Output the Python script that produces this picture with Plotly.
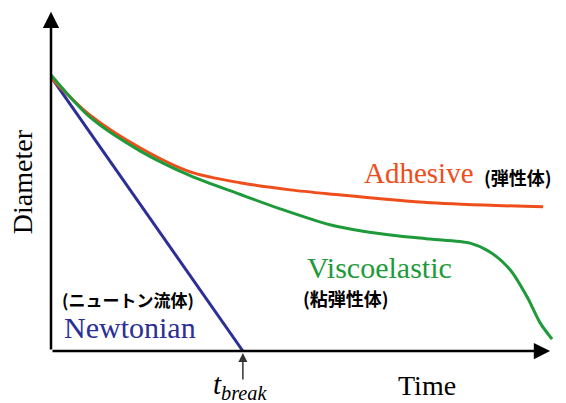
import plotly.graph_objects as go

# Data (time, diameter) in arbitrary units
newton_t = [0.0, 3.86]
newton_d = [8.08, 0.0]

adhesive_t = [0.0, 0.78, 1.79, 2.80, 3.80, 4.81, 5.61, 7.63, 9.90]
adhesive_d = [8.05, 6.96, 5.99, 5.28, 4.96, 4.75, 4.63, 4.37, 4.25]

visco_t = [0.0, 0.78, 1.79, 2.80, 3.80, 4.61, 5.61, 6.28, 6.96, 7.63, 8.43, 8.83, 9.24, 9.58, 9.84, 10.08]
visco_d = [8.14, 6.90, 5.90, 5.17, 4.62, 4.19, 3.72, 3.53, 3.40, 3.30, 3.18, 2.92, 2.39, 1.59, 0.83, 0.35]

BLUE = "#2B2F96"
RED = "#EE4E1C"
GREEN = "#1E9A3A"
SERIF = "Liberation Serif, Times New Roman, serif"
CJK = "Noto Sans CJK JP, sans-serif"

fig = go.Figure()
fig.add_trace(go.Scatter(x=newton_t, y=newton_d, mode="lines",
                         line=dict(color=BLUE, width=3), cliponaxis=False))
fig.add_trace(go.Scatter(x=adhesive_t, y=adhesive_d, mode="lines",
                         line=dict(color=RED, width=3, shape="spline", smoothing=0.8), cliponaxis=False))
fig.add_trace(go.Scatter(x=visco_t, y=visco_d, mode="lines",
                         line=dict(color=GREEN, width=3, shape="spline", smoothing=0.8), cliponaxis=False))

ann = []
# axis arrows
ann.append(dict(x=0, y=10.0, ax=0, ay=0, xref="x", yref="y", axref="x", ayref="y",
                text="", showarrow=True, arrowhead=2, arrowsize=1.3, arrowwidth=2.5, arrowcolor="black"))
ann.append(dict(x=10.04, y=0, ax=0, ay=0, xref="x", yref="y", axref="x", ayref="y",
                text="", showarrow=True, arrowhead=2, arrowsize=1.3, arrowwidth=2.5, arrowcolor="black"))
# t_break arrow
ann.append(dict(x=3.86, y=0, ax=0, ay=30, xref="x", yref="y",
                text="", showarrow=True, arrowhead=2, arrowsize=1.2, arrowwidth=1.5, arrowcolor="#333333", standoff=2))

def label(x, y, text, color, font, size, angle=0, ref="x"):
    xr, yr = ("x", "y") if ref == "x" else ("paper", "paper")
    ann.append(dict(x=x, y=y, xref=xr, yref=yr, text=text, showarrow=False,
                    xanchor="center", yanchor="middle", textangle=angle,
                    font=dict(family=font, size=size, color=color)))

label(7.40, 5.25, "Adhesive", RED, SERIF, 29)
label(9.40, 5.13, "<b>(弾性体)</b>", "black", CJK, 18)
label(6.60, 2.45, "Viscoelastic", GREEN, SERIF, 30)
label(5.94, 1.56, "<b>(粘弾性体)</b>", "black", CJK, 18)
label(1.55, 1.52, "<b>(ニュートン流体)</b>", "black", CJK, 17)
label(1.59, 0.70, "Newtonian", BLUE, SERIF, 30)
label(-0.0566, 0.488, "Diameter", "black", SERIF, 28, angle=-90, ref="paper")
label(0.734, -0.101, "Time", "black", SERIF, 28, ref="paper")
label(0.369, -0.102, "<i>t</i><sub><i>break</i></sub>", "black", SERIF, 29, ref="paper")

fig.update_layout(
    width=566, height=403,
    margin=dict(l=51, r=3, t=5, b=52),
    paper_bgcolor="white", plot_bgcolor="white",
    showlegend=False,
    xaxis=dict(range=[0, 10.3], visible=False, fixedrange=True),
    yaxis=dict(range=[0, 10.2], visible=False, fixedrange=True),
    annotations=ann,
)

fig.write_html("out.html", config={"displayModeBar": False},
               post_script="document.body.style.margin='0';")
